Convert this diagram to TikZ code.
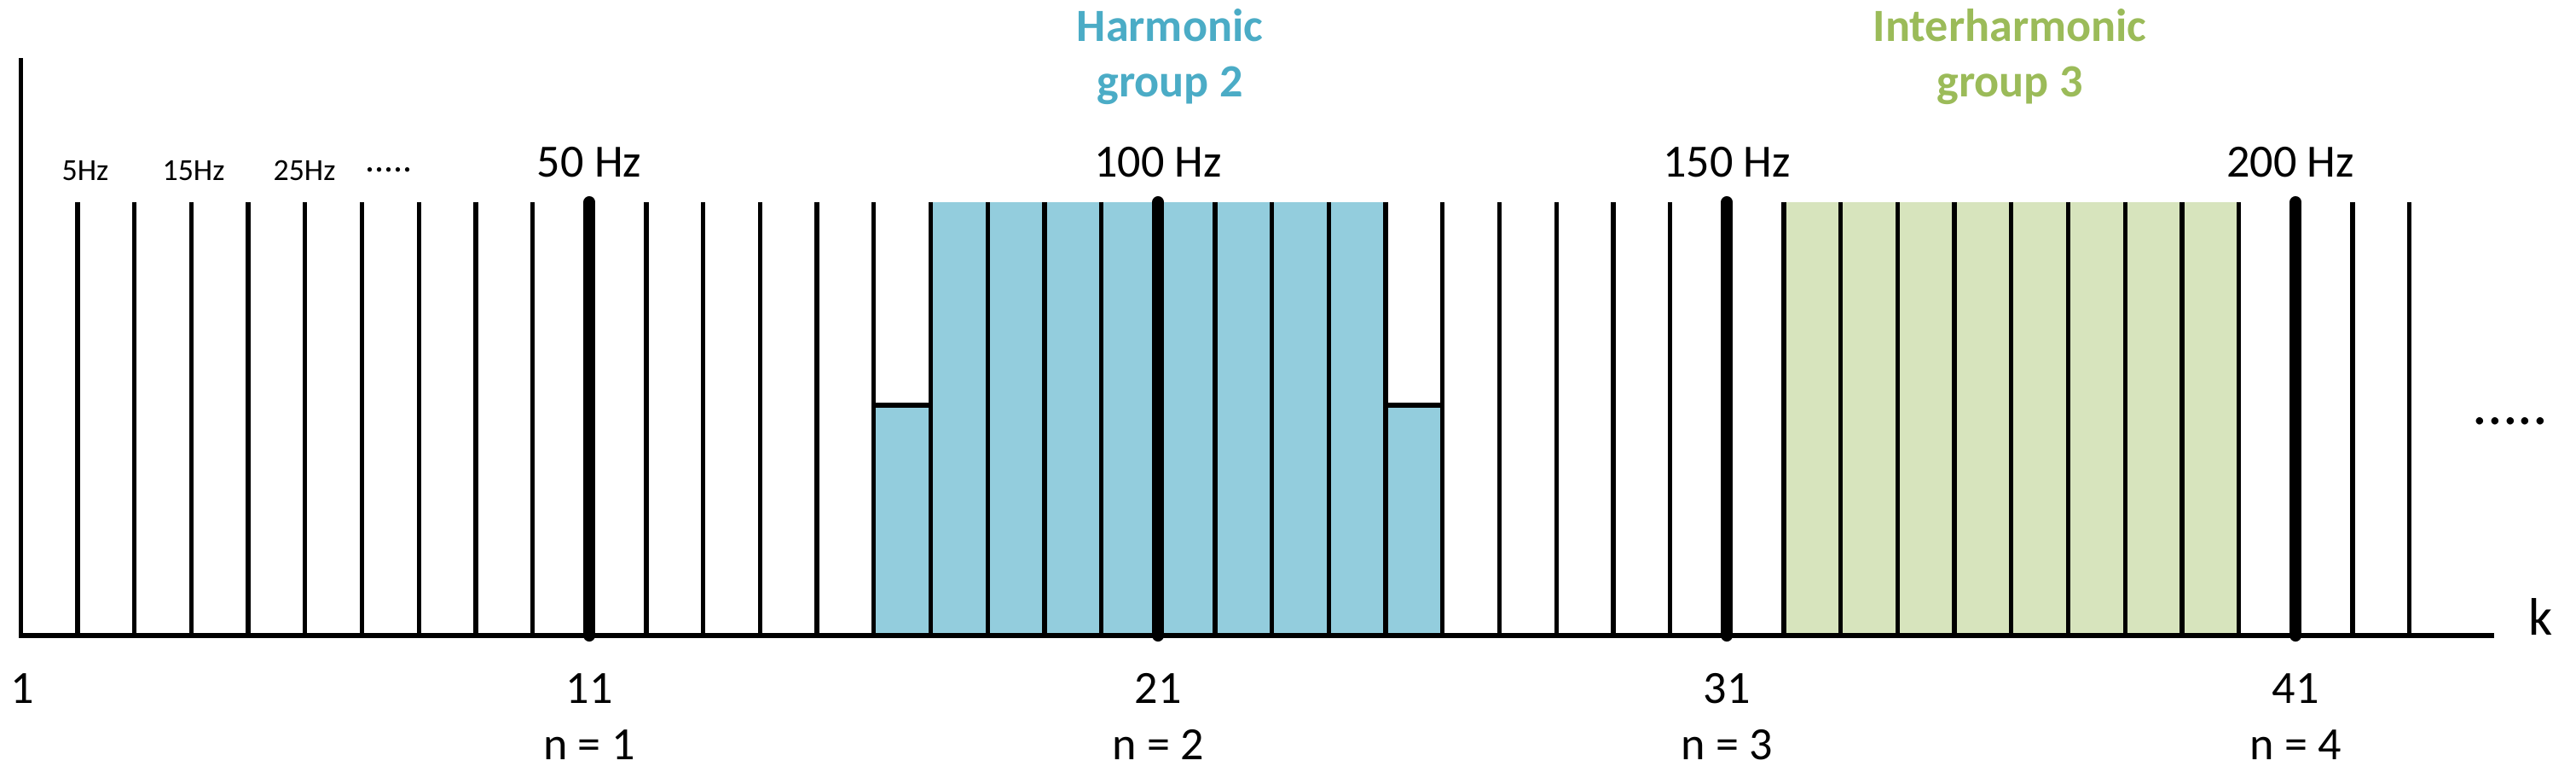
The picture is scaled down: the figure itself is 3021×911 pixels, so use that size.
\documentclass[tikz,border=0pt]{standalone}
\usepackage{fontspec}
\setmainfont{Carlito}
\definecolor{hblue}{HTML}{4BACC6}
\definecolor{hgreen}{HTML}{9BBB59}
\definecolor{fblue}{HTML}{93CDDD}
\definecolor{fgreen}{HTML}{D7E4BD}
\begin{document}
\begin{tikzpicture}[x=0.01cm,y=-0.01cm,
  tickline/.style={line width=1.5pt},
  majorline/.style={line width=4pt, line cap=round},
  baseaxis/.style={line width=1.45pt},
  smalllbl/.style={font=\fontsize{10.2}{12}\selectfont, inner sep=0, anchor=base},
  biglbl/.style={font=\fontsize{15.4}{18}\selectfont, inner sep=0, anchor=base},
  titlelbl/.style={font=\fontsize{15.4}{18}\selectfont\bfseries, inner sep=0, anchor=base}]
\useasboundingbox (0,0) rectangle (3021,911);
\def\xo{24.3}
\def\dk{66.7}
% fills
\fill[fblue] ({\xo+15*\dk},475) rectangle ({\xo+25*\dk},745);
\fill[fblue] ({\xo+16*\dk},237) rectangle ({\xo+24*\dk},745);
\fill[fgreen] ({\xo+31*\dk},237) rectangle ({\xo+39*\dk},745);
% ordinary ticks
\foreach \k in {2,...,43} {
  \draw[tickline] ({\xo+(\k-1)*\dk},745) -- ({\xo+(\k-1)*\dk},237);
}
% short bar tops
\draw[tickline] ({\xo+15*\dk},475) -- ({\xo+16*\dk},475);
\draw[tickline] ({\xo+24*\dk},475) -- ({\xo+25*\dk},475);
% axes
\draw[tickline] (\xo,68) -- (\xo,747);
\draw[baseaxis] (22,745) -- (2925,745);
% major ticks
\foreach \k in {11,21,31,41} {
  \draw[majorline] ({\xo+(\k-1)*\dk},237) -- ({\xo+(\k-1)*\dk},745);
}
% top small labels
\node[smalllbl] (f5) at (100,211) {5Hz};
\node[smalllbl] (f15) at (227,211) {15Hz};
\node[smalllbl] (f25) at (357,211) {25Hz};
\node[font=\fontsize{12.5}{14}\selectfont, inner sep=0, anchor=base] (fdots) at (456,201) {.....};
% Hz labels
\node[biglbl] (h50) at (691,207) {50 Hz};
\node[biglbl] (h100) at (1358,207) {100 Hz};
\node[biglbl] (h150) at (2025,207) {150 Hz};
\node[biglbl] (h200) at (2686,207) {200 Hz};
% titles
\node[titlelbl, text=hblue] (hg1) at (1372,48) {Harmonic};
\node[titlelbl, text=hblue] (hg2) at (1372,113) {group 2};
\node[titlelbl, text=hgreen] (ig1) at (2357,48) {Interharmonic};
\node[titlelbl, text=hgreen] (ig2) at (2357,113) {group 3};
% bottom labels
\node[biglbl] (k1) at (26,824) {1};
\node[biglbl] (k11) at (691,824) {11};
\node[biglbl] (k21) at (1358,824) {21};
\node[biglbl] (k31) at (2025,824) {31};
\node[biglbl] (k41) at (2692,824) {41};
\node[biglbl] (n1) at (691,890) {n = 1};
\node[biglbl] (n2) at (1358,890) {n = 2};
\node[biglbl] (n3) at (2025,890) {n = 3};
\node[biglbl] (n4) at (2692,890) {n = 4};
% axis name and continuation
\node[font=\fontsize{17.6}{21}\selectfont, inner sep=0, anchor=base] (kname) at (2980,744) {k};
\node[font=\fontsize{20}{24}\selectfont, inner sep=0, anchor=base] (rdots) at (2944,497) {.....};
\end{tikzpicture}
\end{document}
